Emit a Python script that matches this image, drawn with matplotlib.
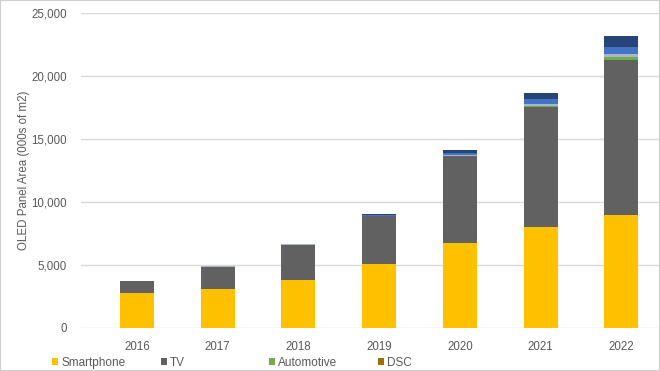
import matplotlib
matplotlib.use('Agg')
from matplotlib import pyplot as plt
from matplotlib.patches import Rectangle
import numpy as np

years = ['2016', '2017', '2018', '2019', '2020', '2021', '2022']
smartphone = [2800, 3100, 3800, 5060, 6750, 8020, 8970]
tv = [900, 1770, 2820, 3790, 6900, 9520, 12320]
automotive = [0, 0, 0, 10, 30, 60, 180]
dsc = [5, 5, 5, 5, 10, 10, 20]
wearable = [10, 10, 10, 30, 60, 180, 250]
tablet = [15, 15, 15, 60, 170, 400, 530]
notebook = [20, 20, 20, 95, 210, 460, 900]

series = [
    ('Smartphone', smartphone, '#FFC000'),
    ('TV', tv, '#616161'),
    ('Automotive', automotive, '#70AD47'),
    ('DSC', dsc, '#997300'),
    ('Wearable', wearable, '#A9B8C8'),
    ('Tablet', tablet, '#4472C4'),
    ('Notebook', notebook, '#264478'),
]

plt.rcParams['font.family'] = ['Liberation Sans', 'DejaVu Sans']
txtcol = '#595959'

fig = plt.figure(figsize=(6.6, 3.71), dpi=100)
ax = fig.add_axes([81 / 660, 1 - 328 / 371, 1 - 81 / 660, (328 - 13) / 371])

x = np.arange(len(years))
bottom = np.zeros(len(years))
handles = []
for name, vals, col in series:
    b = ax.bar(x, vals, width=0.42, bottom=bottom, color=col, label=name, zorder=3)
    handles.append(b)
    bottom += np.array(vals)

ax.set_ylim(0, 25000)
ax.set_xlim(-0.694, 6.48)
ax.set_yticks(range(0, 25001, 5000))
ax.set_yticklabels(['{:,}'.format(v) for v in range(0, 25001, 5000)])
ax.set_xticks(x)
ax.set_xticklabels(years)
ax.yaxis.grid(True, color='#D9D9D9', linewidth=1.0, zorder=0)
ax.set_axisbelow(True)
for s in ax.spines.values():
    s.set_visible(False)
ax.tick_params(axis='both', length=0, labelsize=8.3, labelcolor=txtcol)
ax.tick_params(axis='y', pad=10)
ax.tick_params(axis='x', pad=9)
ax.set_ylabel('OLED Panel Area (000s of m2)', fontsize=8.3, color=txtcol, labelpad=1)

# only the first row of the legend shows in the original, one entry per equal-width slot
for i, h in enumerate(handles[:4]):
    leg = fig.legend(handles=[h], loc='upper left',
                     bbox_to_anchor=((52 + i * 108.5) / 660, 1 - 357 / 371),
                     frameon=False, fontsize=8.5, handlelength=0.55, handleheight=0.55,
                     handletextpad=0.25, borderaxespad=0, borderpad=0)
    for t in leg.get_texts():
        t.set_color(txtcol)

fig.patches.append(Rectangle((0, 0), 1, 1, transform=fig.transFigure, fill=False,
                             edgecolor='#D0D0D0', linewidth=1.5))

fig.savefig('out.png', dpi=100)
